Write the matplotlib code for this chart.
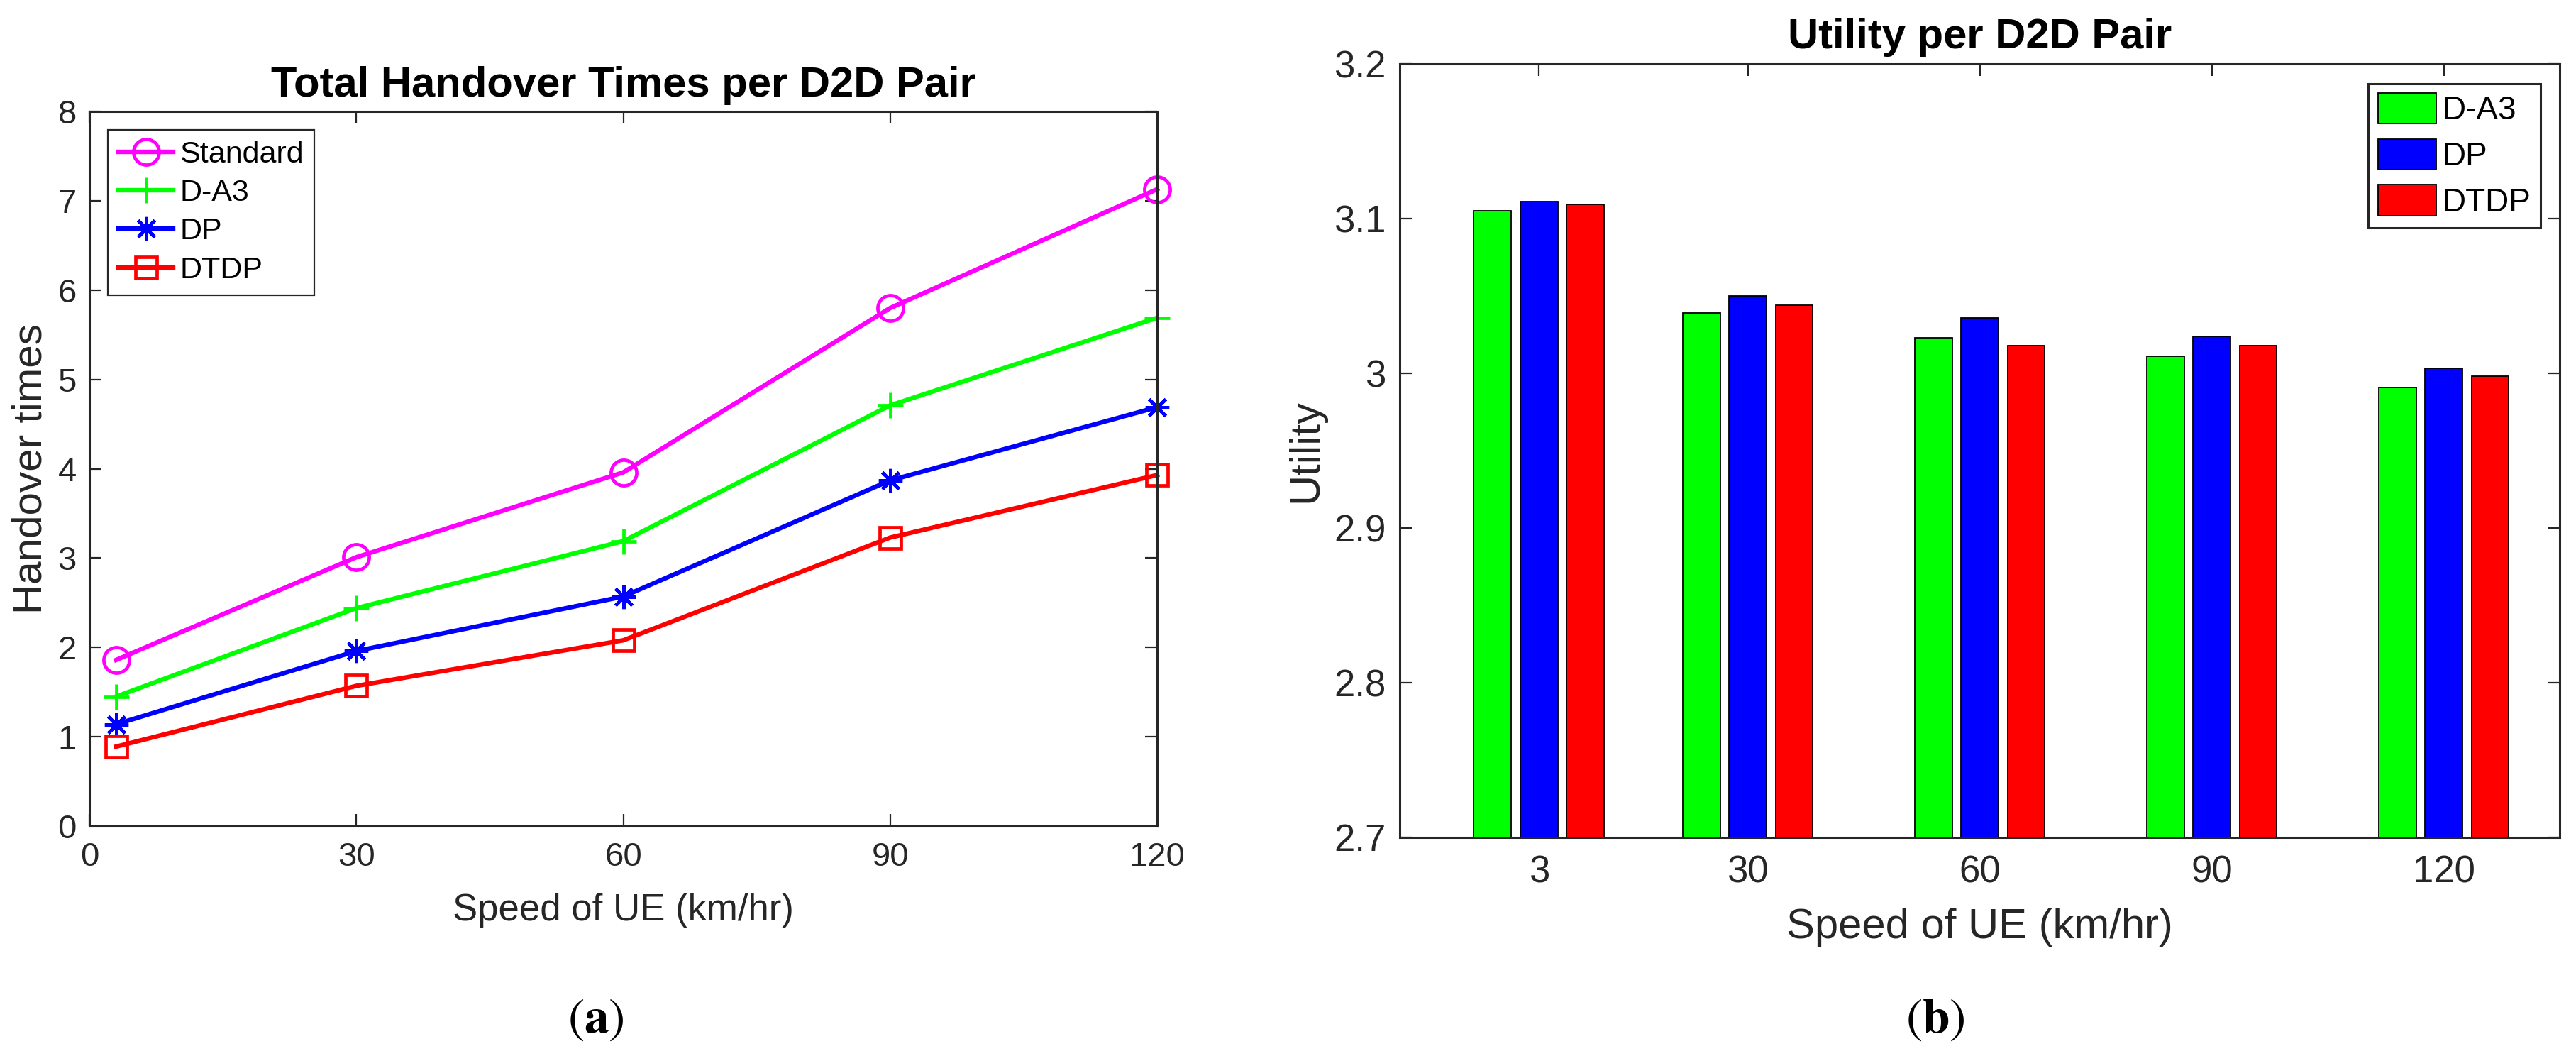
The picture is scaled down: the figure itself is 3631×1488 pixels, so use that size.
import numpy as np
import matplotlib
matplotlib.use("Agg")
import matplotlib.pyplot as plt

# values
speeds = [3, 30, 60, 90, 120]
ho_standard = [1.86, 3.01, 3.96, 5.80, 7.13]
ho_da3 = [1.45, 2.44, 3.19, 4.71, 5.69]
ho_dp = [1.14, 1.96, 2.57, 3.87, 4.69]
ho_dtdp = [0.89, 1.57, 2.08, 3.23, 3.93]

util_da3 = [3.105, 3.039, 3.023, 3.011, 2.991]
util_dp = [3.111, 3.050, 3.036, 3.024, 3.003]
util_dtdp = [3.109, 3.044, 3.018, 3.018, 2.998]

left_xticks = [0, 30, 60, 90, 120]
left_yticks = [0, 1, 2, 3, 4, 5, 6, 7, 8]
right_yticks = [2.7, 2.8, 2.9, 3.0, 3.1, 3.2]
right_yticklabels = ["2.7", "2.8", "2.9", "3", "3.1", "3.2"]

plt.rcParams["font.family"] = ["Liberation Sans", "DejaVu Sans"]
plt.rcParams["mathtext.fontset"] = "stix"

DARK = "#262626"
MAGENTA, GREEN, BLUE, RED = "#ff00ff", "#00ff00", "#0000ff", "#ff0000"

fig = plt.figure(figsize=(36.31, 14.88), dpi=100)
ax1 = fig.add_axes([0.0347, 0.2177, 0.4145, 0.6767])
ax2 = fig.add_axes([0.5434, 0.2070, 0.4503, 0.7325])


def style_axes(ax, tick_fs, pad_x, pad_y):
    for s in ax.spines.values():
        s.set_linewidth(2.2)
        s.set_color(DARK)
    ax.tick_params(direction="in", top=True, right=True, length=12,
                   width=1.6, color=DARK, labelcolor=DARK, labelsize=tick_fs)
    ax.tick_params(axis="x", pad=pad_x)
    ax.tick_params(axis="y", pad=pad_y)


# (a) handover times
lw, mew = 4.6, 3.4
ax1.plot(speeds, ho_standard, color=MAGENTA, lw=lw, marker="o", ms=26,
         mfc="none", mew=mew, label="Standard", clip_on=False)
ax1.plot(speeds, ho_da3, color=GREEN, lw=lw, marker="+", ms=26,
         mew=mew, label="D-A3", clip_on=False)
ax1.plot(speeds, ho_dp, color=BLUE, lw=lw, marker=(8, 2, 0), ms=24,
         mew=mew, label="DP", clip_on=False)
ax1.plot(speeds, ho_dtdp, color=RED, lw=lw, marker="s", ms=21,
         mfc="none", mew=mew, label="DTDP", clip_on=False)
ax1.set_xlim(0, 120)
ax1.set_ylim(0, 8)
ax1.set_xticks(left_xticks)
ax1.set_yticks(left_yticks)
style_axes(ax1, 34, 16, 13)
ax1.set_title("Total Handover Times per D2D Pair", fontsize=43,
              fontweight="bold", pad=15)
ax1.set_xlabel("Speed of UE (km/hr)", fontsize=38, color=DARK)
ax1.xaxis.set_label_coords(0.5, -0.093)
ax1.set_ylabel("Handover times", fontsize=42, color=DARK)
ax1.yaxis.set_label_coords(-0.037, 0.5)
leg1 = ax1.legend(loc="upper left", fontsize=31, frameon=True, fancybox=False,
                  framealpha=1, edgecolor=DARK, handlelength=1.8,
                  handletextpad=0.2, labelspacing=0.33, borderpad=0.35,
                  borderaxespad=0.6)
leg1.get_frame().set_linewidth(1.6)

# (b) utility
x = np.array(speeds, dtype=float)
bw, off = 4.85, 6.0
ax2.bar(x - off, util_da3, width=bw, color=GREEN, edgecolor="black",
        linewidth=1.3, label="D-A3")
ax2.bar(x, util_dp, width=bw, color=BLUE, edgecolor="black",
        linewidth=1.3, label="DP")
ax2.bar(x + off, util_dtdp, width=bw, color=RED, edgecolor="black",
        linewidth=1.3, label="DTDP")
ax2.set_axisbelow(True)
ax2.set_xlim(-15, 135)
ax2.set_ylim(2.7, 3.2)
ax2.set_xticks(speeds)
ax2.set_yticks(right_yticks)
ax2.set_yticklabels(right_yticklabels)
style_axes(ax2, 38, 18, 14)
ax2.tick_params(axis="x", bottom=False)
ax2.set_title("Utility per D2D Pair", fontsize=43, fontweight="bold", pad=16)
ax2.set_xlabel("Speed of UE (km/hr)", fontsize=43, color=DARK)
ax2.xaxis.set_label_coords(0.5, -0.091)
ax2.set_ylabel("Utility", fontsize=43, color=DARK)
ax2.yaxis.set_label_coords(-0.064, 0.5)
leg2 = ax2.legend(loc="upper right", fontsize=33, frameon=True, fancybox=False,
                  framealpha=1, edgecolor=DARK, handlelength=1.8,
                  handleheight=1.07, handletextpad=0.17, labelspacing=0.38,
                  borderpad=0.3, borderaxespad=0.6)
leg2.get_frame().set_linewidth(2.2)

fig.text(840 / 3631, 1 - 1437 / 1488, r"$(\mathbf{a})$", fontsize=50,
         ha="center", va="center")
fig.text(2728 / 3631, 1 - 1437 / 1488, r"$(\mathbf{b})$", fontsize=50,
         ha="center", va="center")

fig.savefig("out.png", dpi=100)
